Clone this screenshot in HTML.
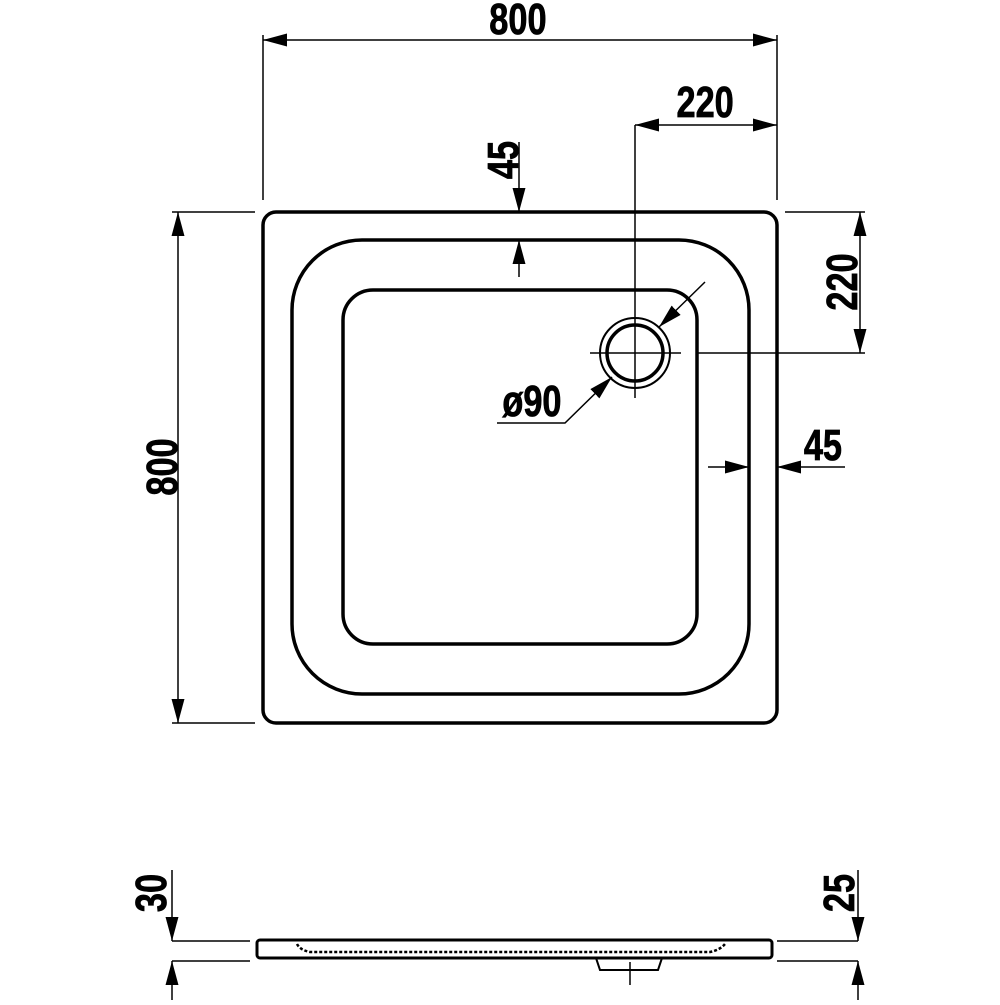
<!DOCTYPE html>
<html><head><meta charset="utf-8"><style>
html,body{margin:0;padding:0;background:#fff}
text{font-family:"Liberation Sans",sans-serif;font-weight:900;font-size:44px;fill:#000;stroke:#000;stroke-width:0.8}
</style></head><body>
<svg width="1000" height="1000" viewBox="0 0 1000 1000" xmlns="http://www.w3.org/2000/svg">
<defs>
<marker id="a" viewBox="0 0 10 10" refX="10" refY="5" markerWidth="24" markerHeight="24" markerUnits="userSpaceOnUse" orient="auto-start-reverse"><path d="M0,2.3 L10,5 L0,7.7 z" fill="#000"/></marker>
</defs>
<g fill="none" stroke="#000">
<rect x="263" y="212" width="514" height="511" rx="13" stroke-width="3.5"/>
<rect x="292" y="240" width="457" height="454" rx="70" stroke-width="3.5"/>
<rect x="343" y="290" width="354" height="354" rx="30" stroke-width="3.5"/>
<circle cx="635" cy="353" r="35" stroke-width="2"/>
<circle cx="635" cy="353" r="28" stroke-width="3.5"/>
<g stroke-width="1.5">
<line x1="590" y1="353" x2="681" y2="353"/>
<line x1="697" y1="353" x2="865" y2="353"/>
<line x1="635" y1="125" x2="635" y2="398"/>
<line x1="263" y1="35" x2="263" y2="200"/>
<line x1="777" y1="35" x2="777" y2="200"/>
<line x1="263" y1="40" x2="777" y2="40" marker-start="url(#a)" marker-end="url(#a)"/>
<line x1="635" y1="125" x2="777" y2="125" marker-start="url(#a)" marker-end="url(#a)"/>
<line x1="519" y1="142" x2="519" y2="212" marker-end="url(#a)"/>
<line x1="519" y1="277" x2="519" y2="240" marker-end="url(#a)"/>
<line x1="172" y1="212" x2="255" y2="212"/>
<line x1="172" y1="723" x2="255" y2="723"/>
<line x1="178" y1="212" x2="178" y2="723" marker-start="url(#a)" marker-end="url(#a)"/>
<line x1="785" y1="212" x2="865" y2="212"/>
<line x1="860" y1="212" x2="860" y2="353" marker-start="url(#a)" marker-end="url(#a)"/>
<line x1="708" y1="467" x2="749" y2="467" marker-end="url(#a)"/>
<line x1="845" y1="467" x2="777" y2="467" marker-end="url(#a)"/>
<polyline points="497,423 565,423 612,377" marker-end="url(#a)"/>
<line x1="705" y1="282" x2="659" y2="327" marker-end="url(#a)"/>
<line x1="172" y1="941" x2="250" y2="941"/>
<line x1="172" y1="961" x2="250" y2="961"/>
<line x1="777" y1="941" x2="858" y2="941"/>
<line x1="777" y1="961" x2="858" y2="961"/>
<line x1="172" y1="870" x2="172" y2="941" marker-end="url(#a)"/>
<line x1="172" y1="1000" x2="172" y2="961" marker-end="url(#a)"/>
<line x1="858" y1="870" x2="858" y2="941" marker-end="url(#a)"/>
<line x1="858" y1="1000" x2="858" y2="961" marker-end="url(#a)"/>
<line x1="630" y1="962" x2="630" y2="985"/>
</g>
<rect x="257" y="940" width="515" height="18" rx="3" stroke-width="3"/>
<path d="M596,958 L600,970 L658,970 L662,958" stroke-width="2"/>
<path d="M297,944 Q300,950 310,952 L710,952 Q720,950 725,944" stroke-width="2.5" stroke-dasharray="3,2"/>
</g>
<g transform="scale(0.78,1)">
<text x="664" y="34" text-anchor="middle">800</text>
<text x="904" y="117" text-anchor="middle">220</text>
<text x="682" y="416" text-anchor="middle">ø90</text>
<text x="1055" y="460" text-anchor="middle">45</text>
</g>
<text transform="translate(518,160) rotate(-90) scale(0.78,1)" text-anchor="middle">45</text>
<text transform="translate(177,467) rotate(-90) scale(0.78,1)" text-anchor="middle">800</text>
<text transform="translate(857,282) rotate(-90) scale(0.78,1)" text-anchor="middle">220</text>
<text transform="translate(166,893) rotate(-90) scale(0.78,1)" text-anchor="middle">30</text>
<text transform="translate(854,893) rotate(-90) scale(0.78,1)" text-anchor="middle">25</text>
</svg>
</body></html>
